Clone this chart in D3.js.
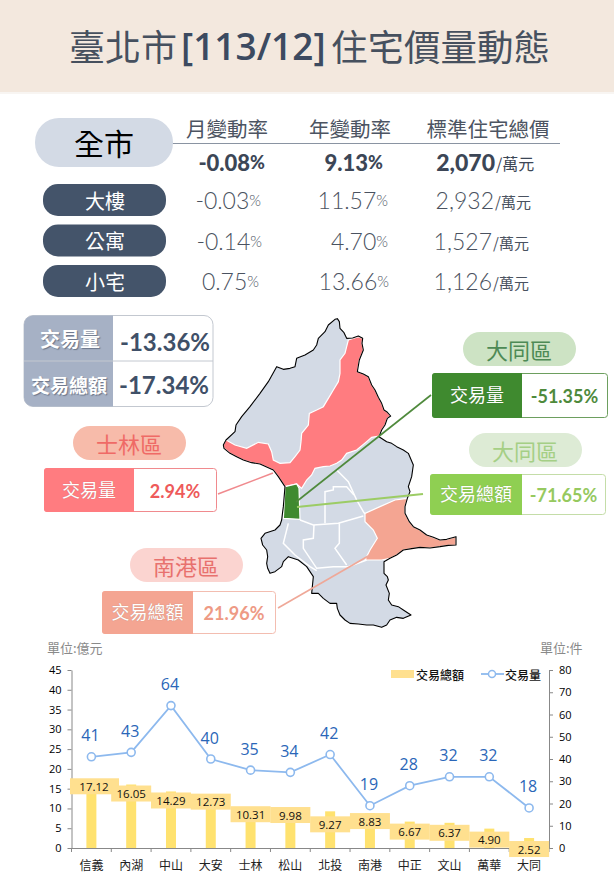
<!DOCTYPE html>
<html><head><meta charset="utf-8">
<script src="https://cdn.jsdelivr.net/npm/d3@7/dist/d3.min.js"></script>
<style>html,body{margin:0;padding:0;background:#fff;overflow:hidden}svg{display:block}
text{font-family:"Noto Sans CJK TC","Noto Sans",sans-serif}
.num{font-family:Lato,"Noto Sans CJK TC",sans-serif}
.lat{font-family:"Open Sans","Noto Sans CJK TC",sans-serif}</style></head><body>
<svg id="c" width="614" height="886"></svg>
<script>
// Chart data
const districts=["信義","內湖","中山","大安","士林","松山","北投","南港","中正","文山","萬華","大同"];
const totalAmount=[17.12,16.05,14.29,12.73,10.31,9.98,9.27,8.83,6.67,6.37,4.90,2.52];
const volume=[41,43,64,40,35,34,42,19,28,32,32,18];
const leftTicks=[0,5,10,15,20,25,30,35,40,45];
const rightTicks=[0,10,20,30,40,50,60,70,80];
const labelShift=[6,9,9,4,7,6.5,13,8,10,10,11,11];
// Summary table
const tableHeads=["月變動率","年變動率","標準住宅總價"];
const rowNames=["全市","大樓","公寓","小宅"];
const monthly=["-0.08","-0.03","-0.14","0.75"];
const yearly=["9.13","11.57","4.70","13.66"];
const prices=["2,070","2,932","1,527","1,126"];
// Map outlines (3x crop space)
const cityOutline=[[405,28],[412,26],[418,35],[420,55],[432,68],[440,85],[458,84],[475,78],[488,85],[486,100],[490,120],[478,150],[472,185],[490,192],[505,200],[515,225],[525,240],[535,262],[545,280],[552,300],[560,305],[572,318],[562,325],[555,345],[545,360],[537,380],[560,395],[575,400],[590,410],[610,420],[625,430],[640,465],[635,500],[625,530],[630,545],[622,565],[615,590],[615,610],[628,635],[640,650],[660,660],[680,675],[700,682],[720,690],[740,688],[768,680],[768,705],[745,706],[720,710],[690,714],[660,712],[635,716],[610,720],[590,735],[570,745],[552,755],[552,790],[562,800],[565,810],[558,825],[568,850],[565,870],[575,885],[595,890],[610,900],[633,915],[610,925],[590,922],[570,930],[560,945],[545,952],[520,945],[500,945],[475,942],[450,940],[435,930],[420,915],[412,895],[410,880],[390,880],[370,865],[355,850],[335,850],[340,800],[320,770],[295,750],[265,740],[250,755],[245,770],[225,785],[210,790],[203,775],[200,760],[203,740],[200,720],[188,705],[183,685],[195,670],[225,660],[240,645],[245,630],[248,605],[250,590],[255,530],[245,515],[235,500],[220,480],[180,462],[155,458],[130,450],[110,440],[90,430],[72,415],[70,405],[78,390],[105,365],[108,345],[125,320],[150,290],[180,250],[205,215],[230,170],[250,178],[270,175],[285,170],[290,145],[315,135],[340,120],[350,105],[355,85],[375,65],[385,45]];
const shilinShape=[[475,80],[488,85],[486,100],[490,120],[478,150],[472,185],[490,192],[505,200],[515,225],[525,240],[535,262],[545,280],[552,300],[560,305],[572,318],[562,325],[555,345],[545,360],[537,378],[515,382],[500,395],[470,420],[440,430],[425,450],[410,460],[390,468],[370,470],[345,475],[335,495],[320,510],[305,535],[290,522],[255,530],[245,515],[235,500],[220,480],[180,462],[155,458],[130,450],[110,440],[90,430],[72,415],[70,405],[78,390],[105,405],[140,415],[175,397],[205,402],[215,425],[220,450],[240,460],[270,458],[285,440],[300,420],[303,395],[305,370],[325,345],[328,310],[350,300],[370,290],[385,265],[400,240],[415,215],[420,190],[420,150],[435,130],[440,110],[445,90]];
const datongShape=[[255,530],[290,522],[297,535],[300,628],[250,625],[252,590]];
const nangangShape=[[495,610],[540,590],[585,570],[622,565],[615,590],[615,610],[628,635],[640,650],[660,660],[680,675],[700,682],[720,690],[740,688],[768,680],[768,705],[745,706],[720,710],[690,714],[660,712],[635,716],[610,720],[590,735],[570,745],[545,750],[495,750],[510,720],[532,685],[520,660],[495,635]];
const innerBorders=[
 [[410,480],[445,515],[470,570],[490,605],[495,612]],
 [[375,640],[375,545],[400,540],[400,530],[440,530],[462,555]],
 [[300,630],[340,645],[415,640],[490,618]],
 [[265,640],[250,700],[285,735],[330,770],[350,782]],
 [[342,645],[340,685],[310,690],[310,715],[350,775],[400,770],[445,770],[500,750]],
 [[418,640],[418,700],[405,715],[440,765]]];

const svg=d3.select("#c");
const T=(s,x,y,o={})=>{const t=svg.append("text").attr("x",x).attr("y",y).attr("text-anchor",o.a||"middle").attr("dominant-baseline","central")
 .attr("font-size",o.s||14).attr("fill",o.c||"#000").attr("font-weight",o.w||400).text(s);if(o.k)t.attr("class",o.k);if(o.sh)t.style("text-shadow",o.sh);return t;};
const R=(x,y,w,h,r,f,st)=>svg.append("rect").attr("x",x).attr("y",y).attr("width",w).attr("height",h).attr("rx",r).attr("fill",f).attr("stroke",st||"none");

// Banner
R(0,0,614,92,0,"#F3E8DE");
R(0,92,614,2,0,"#F8F5F2");
T("臺北市",69,45,{a:"start",s:36,c:"#46505E"});
T("[113/12]",181,45,{a:"start",s:37,c:"#3C4A60",k:"lat",w:600});
T("住宅價量動態",331,45,{a:"start",s:36.5,c:"#46505E"});

// Summary table
const colX=[227,350,488], dark="#3C4656", grey="#4A5260";
tableHeads.forEach((h,i)=>T(h,colX[i],128,{s:20.5,c:"#4C5462"}));
svg.append("line").attr("x1",172).attr("x2",560).attr("y1",143.5).attr("y2",143.5).attr("stroke","#8A94A2").attr("stroke-width",1);
R(35,118,138,49,24,"#D3DAE5");
T(rowNames[0],104,142,{s:30,c:"#000"});
const rowY=[162,200,241,281],pillY=[0,184,224.5,265];
const endM=[265,261,262,259],endY=[383,388,388,389],priceEnd=[495,494,492,492];
rowNames.forEach((n,i)=>{
 if(i>0){R(43,pillY[i],123,32,15,"#44546A");T(n,105,pillY[i]+16,{s:20,c:"#fff"});}
 const b=i==0?900:300,sz=i==0?22:23,col=i==0?dark:grey,ps=i==0?18:15;
 [[monthly[i],endM[i]],[yearly[i],endY[i]]].forEach(([v,e])=>{
  const t=svg.append("text").attr("x",e).attr("y",rowY[i]).attr("text-anchor","end").attr("dominant-baseline","central").attr("class","num").attr("fill",col).attr("font-weight",b);
  t.append("tspan").attr("font-size",sz).text(v);
  t.append("tspan").attr("font-size",ps).text("%");
 });
 T(prices[i],priceEnd[i],rowY[i],{a:"end",s:23,c:col,w:b,k:"num"});
 T("/萬元",priceEnd[i]+1,rowY[i]+1,{a:"start",s:i==0?16:15,c:col});
});

// Map
const mx=d3.scaleLinear().domain([0,3]).range([200,201]);
const my=d3.scaleLinear().domain([0,3]).range([310,311]);
const mapLine=d3.line().x(d=>mx(d[0])).y(d=>my(d[1])).curve(d3.curveLinear);
const gm=svg.append("g");
gm.append("path").attr("d",mapLine(cityOutline)+"Z").attr("fill","#D3DAE5");
[[shilinShape,"#FF7C80"],[datongShape,"#3F8A2F"],[nangangShape,"#F4A592"]].forEach(([s,f])=>{
 gm.append("path").attr("d",mapLine(s)+"Z").attr("fill",f).attr("stroke","#fff").attr("stroke-width",1.2);});
innerBorders.forEach(b=>gm.append("path").attr("d",mapLine(b)).attr("fill","none").attr("stroke","#fff").attr("stroke-width",1.5));
gm.append("path").attr("d",mapLine(cityOutline)+"Z").attr("fill","none").attr("stroke","#000").attr("stroke-width",1.1).attr("stroke-linejoin","round");

// Leader lines
const L=(a,b,c,d,col,w)=>svg.append("line").attr("x1",a).attr("y1",b).attr("x2",c).attr("y2",d).attr("stroke",col).attr("stroke-width",w||1.6);
L(273,473,218,494,"#F08A8E");
L(370,555,278,608,"#EFA898");
L(431,395,296,502,"#4F8A3C");
L(423,494,297,507,"#9CCC65",2);

// Citywide change panel
R(24,315.5,189,91,9,"#fff","#C3C8D0");
svg.append("path").attr("d","M113,315.5H33a9,9 0 0 0 -9,9V397.5a9,9 0 0 0 9,9H113Z").attr("fill","#A6B1C5");
svg.append("line").attr("x1",24).attr("x2",213).attr("y1",361).attr("y2",361).attr("stroke","#C3C8D0");
const sh="1px 1px 1px rgba(60,70,90,.55)";
T("交易量",70,338,{s:20,c:"#fff",w:700,sh});
T("交易總額",69,384,{s:19,c:"#fff",w:700,sh});
T("-13.36%",165,341,{s:24,c:"#3F5068",w:700,k:"num"});
T("-17.34%",164,384,{s:24,c:"#3F5068",w:700,k:"num"});

// District call-outs
function callout(n,px,py,pf,pc,bx,by,bw,bh,split,lf,bc,lab,val,vc,ls){
 R(px,py,113,34,17,pf);
 T(n,px+56,py+17,{s:22,c:pc});
 R(bx+.5,by+.5,bw,bh,3,"#fff",bc);
 svg.append("path").attr("d",`M${split},${by}H${bx+3}a3,3 0 0 0 -3,3V${by+bh-2}a3,3 0 0 0 3,3H${split}Z`).attr("fill",lf);
 T(lab,(bx+split)/2,by+bh/2-1,{s:ls,c:"#fff",sh:"0 0 1px rgba(90,90,90,.4)"});
 T(val,(split+bx+bw)/2,by+bh/2+1,{s:18,c:vc,w:700,k:"num"});
}
callout("士林區",73,426,"#F7BBAA","#EF6A66",44,468,172,43,134,"#FF7C80","#F08A8E","交易量","2.94%","#EE5A5A",18);
callout("南港區",130,548,"#FBD4D0","#E8716E",102,591,173,42,193,"#F4A592","#F3BDB0","交易總額","21.96%","#EE9A85",18);
callout("大同區",463,332,"#CDE3C4","#4D8A55",432,373,175,44,522,"#3F8A2F","#6D9F5F","交易量","-51.35%","#4E8A3C",18);
callout("大同區",469,433,"#DDEBD5","#A5CF85",430,474,175,40,522,"#8FCF52","#C4DDA8","交易總額","-71.65%","#96C95F",18);

// Combo chart
const x=d3.scaleBand().domain(districts).range([71.5,549]);
const yL=d3.scaleLinear().domain([0,45]).range([848,670]);
const yR=d3.scaleLinear().domain([0,80]).range([848,670]);
T("單位:億元",47,647,{a:"start",s:13,c:"#8A8A8A"});
T("單位:件",540,647,{a:"start",s:13,c:"#8A8A8A"});
const cx=d=>x(d)+x.bandwidth()/2;
const barC="#FFE26F",lblC="#FFE08F";
svg.append("g").selectAll("rect").data(districts).join("rect")
 .attr("x",d=>cx(d)-5).attr("width",10).attr("y",(d,i)=>yL(totalAmount[i])).attr("height",(d,i)=>848-yL(totalAmount[i])).attr("fill",barC);
const axC="#888";
const ax=(g)=>{g.selectAll(".domain,.tick line").attr("stroke",axC);g.selectAll("text").attr("font-size",11).attr("fill","#000").attr("class","lat");};
svg.append("g").attr("transform","translate(71.5,0)").call(d3.axisLeft(yL).tickValues(leftTicks).tickSize(4).tickSizeOuter(0).tickPadding(6)).call(ax);
svg.append("g").attr("transform","translate(549,0)").call(d3.axisRight(yR).tickValues(rightTicks).tickSize(4).tickSizeOuter(0).tickPadding(6)).call(ax);
svg.append("g").attr("transform","translate(0,848)").call(d3.axisBottom(x).tickSize(0).tickPadding(13)).call(g=>{g.select(".domain").attr("stroke",axC);g.selectAll("text").attr("font-size",12).attr("fill","#222");});
svg.append("g").selectAll("line").data(districts.concat([null])).join("line")
 .attr("x1",(d,i)=>d?x(d):549).attr("x2",(d,i)=>d?x(d):549).attr("y1",848).attr("y2",852).attr("stroke",axC);
// amount labels
const lb=svg.append("g");
districts.forEach((d,i)=>{
 const c=yL(totalAmount[i])+labelShift[i];
 const w=i==0?49:40, lx=i==0?70:cx(d)-20;
 lb.append("rect").attr("x",lx).attr("y",c-8).attr("width",w).attr("height",16).attr("fill",lblC);
 lb.append("text").attr("x",i==0?94:cx(d)).attr("y",c).attr("text-anchor","middle").attr("dominant-baseline","central").attr("class","lat").attr("font-size",11.5).attr("fill","#111").text(totalAmount[i].toFixed(2));
});
// line
const lineC="#8DB9EE";
svg.append("path").datum(volume).attr("fill","none").attr("stroke",lineC).attr("stroke-width",1.8)
 .attr("d",d3.line().x((v,i)=>cx(districts[i])).y(v=>yR(v)));
svg.append("g").selectAll("circle").data(volume).join("circle").attr("cx",(v,i)=>cx(districts[i])).attr("cy",v=>yR(v)).attr("r",4).attr("fill","#fff").attr("stroke",lineC).attr("stroke-width",1.6);
svg.append("g").selectAll("text").data(volume).join("text").attr("x",(v,i)=>cx(districts[i])-1).attr("y",v=>yR(v)-21.5).attr("text-anchor","middle").attr("dominant-baseline","central").attr("class","lat").attr("font-size",16).attr("fill","#2A66B8").text(v=>v);
// legend
R(391,670,23,8,0,lblC);
T("交易總額",416,674,{a:"start",s:12,c:"#111",w:500});
L(481,674,504,674,lineC,1.8);
svg.append("circle").attr("cx",492).attr("cy",674).attr("r",3.5).attr("fill","#fff").attr("stroke",lineC).attr("stroke-width",1.5);
T("交易量",505,674,{a:"start",s:12,c:"#111",w:500});
</script></body></html>
